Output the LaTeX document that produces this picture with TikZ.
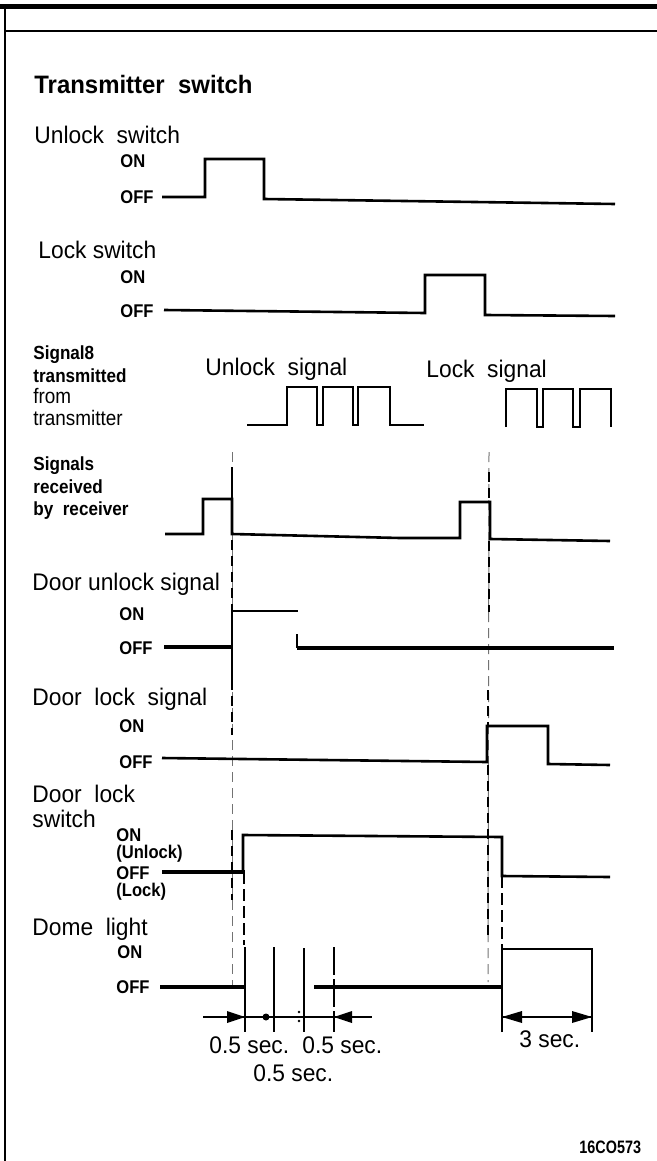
\documentclass[tikz,border=0pt]{standalone}
\usepackage{fontspec}
\setmainfont{Liberation Sans}
\newfontfamily\nfont[FakeStretch=0.95]{Liberation Sans}
\newfontfamily\kfont[FakeStretch=0.9]{Liberation Sans}
\newfontfamily\condfont[FakeStretch=0.8]{Liberation Sans}
\begin{document}
\begin{tikzpicture}[x=0.5pt,y=-0.5pt,
  lbl/.style={anchor=base west,inner sep=0,font=\nfont\fontsize{12}{14}\selectfont},
  st/.style={anchor=base west,inner sep=0,font=\kfont\bfseries\fontsize{9.2}{10}\selectfont},
  smb/.style={anchor=base west,inner sep=0,font=\kfont\bfseries\fontsize{9.5}{10}\selectfont},
  smr/.style={anchor=base west,inner sep=0,font=\kfont\fontsize{10.5}{11}\selectfont},
  dim/.style={anchor=base west,inner sep=0,font=\nfont\fontsize{12}{13}\selectfont},
  sig/.style={line width=1.3pt,line join=miter},
  thk/.style={line width=1.8pt},
  tick/.style={line width=0.8pt},
  gdash/.style={line width=0.5pt,black!55,dash pattern=on 5pt off 3pt},
  bdash/.style={line width=0.8pt,black,dash pattern=on 5pt off 3pt},
  tdash/.style={line width=1.1pt,black,dash pattern=on 6pt off 2.5pt},
  head/.style={fill=black,draw=none}]
\useasboundingbox (0,0) rectangle (657,1161);
% frame
\draw[line width=2.5pt] (0,6.5) -- (657,6.5);
\draw[line width=1.3pt] (4,31) -- (657,31);
\draw[line width=1.3pt] (5,5) -- (5,1161);

% titles and labels
\node[anchor=base west,inner sep=0,font=\nfont\bfseries\fontsize{12.6}{14}\selectfont] (title) at (34,94) {Transmitter\ \ switch};
\node[lbl] (uls) at (34,143) {Unlock\ \ switch};
\node[st] (on1) at (120,167) {ON};
\node[st] (off1) at (120,203) {OFF};
\node[lbl] (ls) at (38,258) {Lock switch};
\node[st] (on2) at (120,283) {ON};
\node[st] (off2) at (120,317) {OFF};
\node[smb] (s8a) at (33,359) {Signal8};
\node[smb] (s8b) at (33,382) {transmitted};
\node[smr] (s8c) at (33,403) {from};
\node[smr] (s8d) at (33,425) {transmitter};
\node[lbl] (ulsig) at (205,375) {Unlock\ \ signal};
\node[lbl] (lsig) at (426,377) {Lock\ \ signal};
\node[smb] (rca) at (33,470) {Signals};
\node[smb] (rcb) at (33,493) {received};
\node[smb] (rcc) at (33,515) {by\ \ receiver};
\node[lbl] (dus) at (32,590) {Door unlock signal};
\node[st] (on3) at (119,620) {ON};
\node[st] (off3) at (119,654) {OFF};
\node[lbl] (dls) at (32,705) {Door\ \ lock\ \ signal};
\node[st] (on4) at (119,732) {ON};
\node[st] (off4) at (119,768) {OFF};
\node[lbl] (dlw1) at (32,802) {Door\ \ lock};
\node[lbl] (dlw2) at (32,827) {switch};
\node[st] (on5) at (116,841) {ON};
\node[st] (on5b) at (116,858) {(Unlock)};
\node[st] (off5) at (116,879) {OFF};
\node[st] (off5b) at (116,896) {(Lock)};
\node[lbl] (dome) at (32,935) {Dome\ \ light};
\node[st] (on6) at (117,958) {ON};
\node[st] (off6) at (116,993) {OFF};
\node[dim] (t1) at (209,1053) {0.5 sec.};
\node[dim] (t2) at (302,1053) {0.5 sec.};
\node[dim] (t3) at (253,1081) {0.5 sec.};
\node[dim] (t4) at (519,1047) {3 sec.};
\node[anchor=base west,inner sep=0,font=\condfont\bfseries\fontsize{9}{10}\selectfont] (code) at (579,1153) {16CO573};

% dashed guide lines
\draw[gdash] (232,452) -- (232,985);
\draw[bdash] (232,540) -- (232,611);
\draw[bdash] (232,680) -- (232,735);
\draw[bdash] (232,830) -- (232,900);
\draw[line width=1pt] (232,467) -- (232,499);
\draw[gdash] (489,452) -- (488,982);
\draw[bdash] (489,472) -- (489,502);
\draw[bdash] (489,541) -- (489,612);
\draw[bdash] (488,690) -- (488,726);
\draw[bdash] (488,765) -- (488,940);
\draw[tdash] (244,872) -- (244,945);
\draw[tdash] (502,876) -- (502,949);

% unlock switch
\draw[sig] (162,197) -- (205,197) -- (205,159) -- (264,159) -- (264,199) -- (615,204);
% lock switch
\draw[sig] (164,310) -- (425,313) -- (425,275) -- (485,275) -- (485,315) -- (615,316);
% transmitted signals
\draw[sig] (247,425) -- (287,425) -- (287,387) -- (317,387) -- (317,425) -- (323,425) -- (323,387) -- (353,387) -- (353,425) -- (358,425) -- (358,387) -- (390,387) -- (390,425) -- (424,425);
\draw[sig] (506,427) -- (506,389) -- (537,389) -- (537,427) -- (543,427) -- (543,389) -- (573,389) -- (573,427) -- (580,427) -- (580,389) -- (611,389) -- (611,427);
% received
\draw[sig] (165,534) -- (203,534) -- (203,499) -- (232,499) -- (232,534) -- (400,538) -- (460,538) -- (460,502) -- (490,502) -- (490,539) -- (610,541);
% door unlock signal
\draw[thk] (164,647) -- (232,647);
\draw[sig] (232,680) -- (232,611) -- (298,611);
\draw[sig] (297,634) -- (297,648);
\draw[thk] (297,648) -- (614,648);
% door lock signal
\draw[sig] (162,758) -- (487,762) -- (487,726) -- (548,726) -- (548,764) -- (610,765);
% door lock switch
\draw[thk] (162,872) -- (245,872);
\draw[sig] (243,872) -- (243,835) -- (502,837) -- (502,876) -- (610,877);
% dome light
\draw[thk] (160,987) -- (245,987);
\draw[thk] (314,987) -- (502,987);
\draw[sig] (502,1032) -- (502,949) -- (592,949) -- (592,1032);
\draw[tick] (245,947) -- (245,1032);
\draw[tick] (274,947) -- (274,1032);
\draw[tick] (304,948) -- (304,1032);
\draw[tick,dash pattern=on 14pt off 2pt] (334,947) -- (334,1032);
% dimensions
\draw[tick] (203,1017) -- (372,1017);
\fill[head] (227,1011) -- (245,1017) -- (227,1023) -- cycle;
\fill[head] (352,1011) -- (334,1017) -- (352,1023) -- cycle;
\fill (266,1017) circle (3.5);
\fill (299,1012) circle (1.3);
\fill (299,1021) circle (1.3);
\draw[tick] (502,1017) -- (592,1017);
\fill[head] (522,1011) -- (502,1017) -- (522,1023) -- cycle;
\fill[head] (572,1011) -- (592,1017) -- (572,1023) -- cycle;
\end{tikzpicture}
\end{document}
